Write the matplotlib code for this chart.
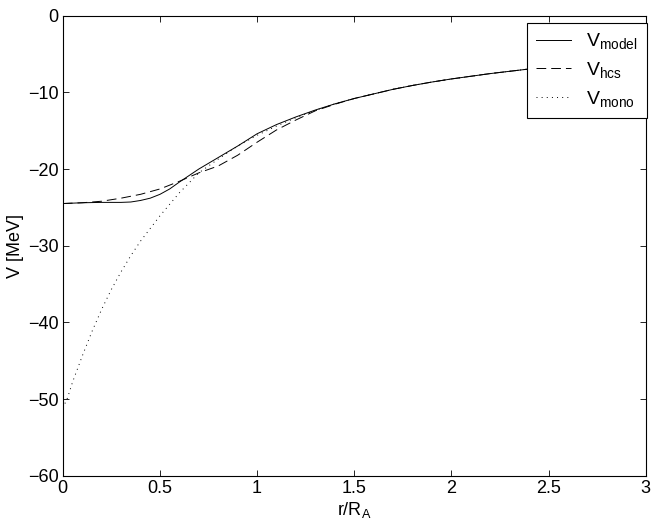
import matplotlib
matplotlib.use("Agg")
from matplotlib import pyplot as plt

plt.rcParams['font.family'] = ['Liberation Sans', 'DejaVu Sans']
plt.rcParams['mathtext.fontset'] = 'custom'
plt.rcParams['mathtext.rm'] = 'Liberation Sans'
plt.rcParams['lines.scale_dashes'] = False

# valores
r_model = [0, 0.1, 0.2, 0.3, 0.35, 0.4, 0.45, 0.5, 0.55, 0.6, 0.7, 0.8, 0.9,
           1.0, 1.1, 1.2, 1.3, 1.4, 1.5, 1.6, 1.7, 1.8, 1.9, 2.0, 2.2, 2.4,
           2.6, 2.8, 3.0]
v_model = [-24.5, -24.4, -24.35, -24.35, -24.3, -24.1, -23.8, -23.3, -22.6,
           -21.7, -20.0, -18.5, -17.0, -15.4, -14.2, -13.2, -12.3, -11.5,
           -10.8, -10.2, -9.6, -9.1, -8.65, -8.25, -7.55, -6.95, -6.5, -6.1,
           -5.75]

r_hcs = [0, 0.1, 0.2, 0.3, 0.4, 0.5, 0.6, 0.7, 0.8, 0.9, 1.0, 1.1, 1.2, 1.3,
         1.4, 1.5, 1.6, 1.7, 1.8, 1.9, 2.0, 2.2, 2.4, 2.6, 2.8, 3.0]
v_hcs = [-24.5, -24.4, -24.2, -23.8, -23.3, -22.6, -21.6, -20.5, -19.6, -18.2,
         -16.5, -14.9, -13.6, -12.4, -11.55, -10.8, -10.2, -9.6, -9.1, -8.65,
         -8.25, -7.55, -6.95, -6.5, -6.1, -5.75]

r_mono = [0, 0.025, 0.05, 0.1, 0.15, 0.2, 0.25, 0.3, 0.35, 0.4, 0.5, 0.6, 0.7,
          0.8, 0.9, 1.0, 1.1, 1.2, 1.3, 1.4, 1.5, 1.6, 1.7, 1.8, 1.9, 2.0, 2.2,
          2.4, 2.6, 2.8, 3.0]
v_mono = [-51.2, -49.8, -47.8, -44.4, -41.2, -38.3, -35.7, -33.4, -31.3, -29.4,
          -26.1, -23.1, -20.5, -18.7, -17.0, -15.6, -14.4, -13.3, -12.35,
          -11.5, -10.8, -10.2, -9.6, -9.1, -8.65, -8.25, -7.55, -6.95, -6.5,
          -6.1, -5.75]

nomes = [r'$\mathrm{V_{model}}$', r'$\mathrm{V_{hcs}}$', r'$\mathrm{V_{mono}}$']

fig = plt.figure(figsize=(6.54, 5.28), dpi=100)
ax = fig.add_axes([62.8 / 654, 1 - 475.7 / 528, (645.7 - 62.8) / 654, (475.7 - 15.7) / 528])

ax.plot(r_model, v_model, color='black', lw=0.7, ls='-', label=nomes[0])
ax.plot(r_hcs, v_hcs, color='black', lw=0.7, ls=(0, (7, 3.6)), label=nomes[1])
ax.plot(r_mono, v_mono, color='black', lw=0.7, ls=(0, (0.7, 3)), label=nomes[2])

ax.set_xlim(0, 3)
ax.set_ylim(-60, 0)
ax.set_xticks([0, 0.5, 1, 1.5, 2, 2.5, 3])
ax.set_xticklabels(['0', '0.5', '1', '1.5', '2', '2.5', '3'])
ax.set_yticks([-60, -50, -40, -30, -20, -10, 0])
ax.set_yticklabels(['\u221260', '\u221250', '\u221240', '\u221230', '\u221220', '\u221210', '0'])
ax.tick_params(direction='in', length=4, width=0.6, top=True, right=True,
               labelsize=13, pad=3)
for s in ax.spines.values():
    s.set_linewidth(0.8)

ax.set_xlabel(r'r/R$_\mathrm{A}$', fontsize=13, labelpad=2)
ax.set_ylabel('V [MeV]', fontsize=13, labelpad=3)

leg = ax.legend(loc='upper right', bbox_to_anchor=(646.7 / 654, 1 - 22.7 / 528),
                bbox_transform=fig.transFigure, borderaxespad=0, fontsize=14,
                fancybox=False, edgecolor='black', framealpha=1,
                handlelength=1.8, handletextpad=0.8, labelspacing=0.45,
                borderpad=0.45)
leg.get_frame().set_linewidth(0.8)

fig.savefig('out.png', dpi=100)
